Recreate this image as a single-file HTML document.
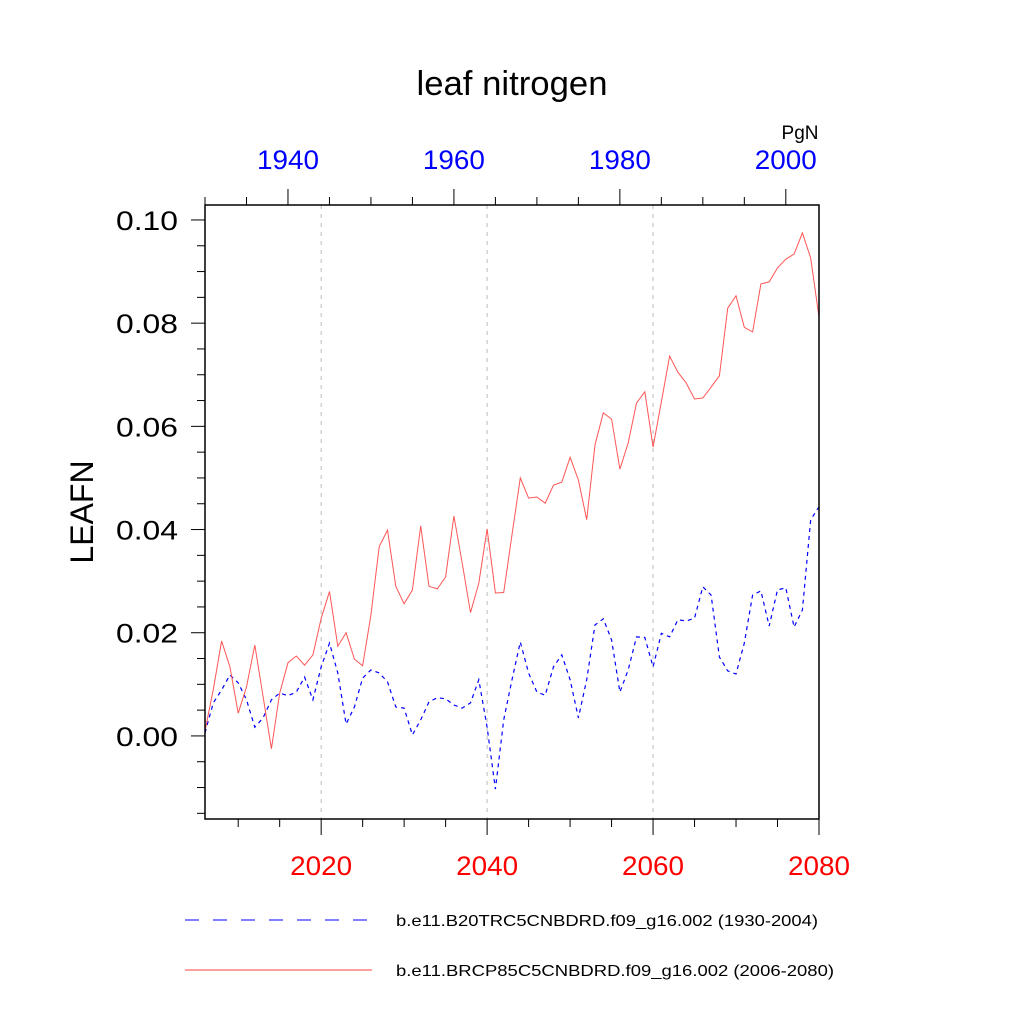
<!DOCTYPE html>
<html><head><meta charset="utf-8"><style>
body{margin:0;background:#fff}
svg{display:block;font-family:"Liberation Sans",sans-serif}
</style></head><body>
<svg id="chart" width="1024" height="1024" viewBox="0 0 1024 1024">
<text x="512" y="95" text-anchor="middle" font-size="34" textLength="191" lengthAdjust="spacingAndGlyphs">leaf nitrogen</text>
<text x="800" y="139" text-anchor="middle" font-size="19">PgN</text>
<text transform="translate(93,512) rotate(-90)" text-anchor="middle" font-size="32">LEAFN</text>
<g id="grid"></g><g id="axes"></g><g id="series"></g>
<rect x="205" y="205" width="614" height="614" fill="none" stroke="#000" stroke-width="1.5"/>
<line x1="185" y1="920" x2="372" y2="920" stroke="#00f" stroke-dasharray="14,14"/>
<text x="396" y="926" font-size="16" textLength="422" lengthAdjust="spacingAndGlyphs">b.e11.B20TRC5CNBDRD.f09_g16.002 (1930-2004)</text>
<line x1="185" y1="970" x2="372" y2="970" stroke="#f00" stroke-width="0.8"/>
<text x="396" y="976" font-size="16" textLength="438" lengthAdjust="spacingAndGlyphs">b.e11.BRCP85C5CNBDRD.f09_g16.002 (2006-2080)</text>
</svg>
<script>
const redYears=[2006,2080];
const blueYears=[1930,2004];
const redValues=[0.001,0.009,0.0184,0.0134,0.0044,0.0095,0.0176,0.0076,-0.0025,0.0083,0.0142,0.0155,0.0137,0.0157,0.0228,0.028,0.0174,0.020,0.0149,0.0136,0.0234,0.0367,0.0399,0.029,0.0256,0.0283,0.0407,0.029,0.0285,0.0308,0.0426,0.0335,0.0239,0.0296,0.0401,0.0277,0.0278,0.039,0.050,0.0461,0.0463,0.0451,0.0486,0.0492,0.054,0.0496,0.0419,0.0564,0.0626,0.0614,0.0517,0.0568,0.0645,0.0667,0.056,0.0648,0.0736,0.0705,0.0684,0.0653,0.0655,0.0676,0.0698,0.0829,0.0853,0.0792,0.0783,0.0876,0.088,0.0907,0.0924,0.0934,0.0975,0.0926,0.0812];
const blueValues=[0.0006,0.0064,0.0089,0.0118,0.0103,0.007,0.0017,0.0035,0.007,0.0083,0.0078,0.0085,0.0114,0.007,0.0134,0.018,0.0122,0.0023,0.0056,0.0112,0.0128,0.0122,0.0105,0.0056,0.0054,0.0002,0.0031,0.0066,0.0074,0.0072,0.006,0.0054,0.0064,0.0109,0.0017,-0.0103,0.0031,0.0109,0.0182,0.0122,0.0085,0.0079,0.0134,0.0157,0.0109,0.0035,0.0109,0.0215,0.0227,0.0186,0.0085,0.0128,0.0192,0.0191,0.0134,0.0199,0.0192,0.0225,0.0223,0.0228,0.0289,0.0273,0.0153,0.0126,0.012,0.018,0.0273,0.0281,0.0213,0.0283,0.0287,0.0211,0.0244,0.0419,0.0444];
const yTicks=[0,0.02,0.04,0.06,0.08,0.10];
const yTickLabels=["0.00","0.02","0.04","0.06","0.08","0.10"];
const bottomTicks=[2020,2040,2060,2080];
const topTicks=[1940,1960,1980,2000];
const X0=205,X1=819,Y0=205,Y1=819;
const yMin=-0.0161,yMax=0.1029;
const y=v=>Y1-(v-yMin)/(yMax-yMin)*(Y1-Y0);
const xb=t=>X0+(t-redYears[0])/(redYears[1]-redYears[0])*(X1-X0);
const xt=t=>X0+(t-blueYears[0])/(blueYears[1]-blueYears[0])*(X1-X0);
const NS="http://www.w3.org/2000/svg";
function mk(tag,attrs,parent,txt){const e=document.createElementNS(NS,tag);for(const k in attrs)e.setAttribute(k,attrs[k]);if(txt!==undefined)e.textContent=txt;document.getElementById(parent).appendChild(e);return e;}
[2020,2040,2060].forEach(t=>{const e=mk('line',{x1:xb(t),x2:xb(t),y1:Y0,y2:Y1,stroke:'#bbb','stroke-dasharray':'4,5','stroke-width':1},'grid');

});
for(let v=-0.015;v<=0.1001;v+=0.005){const major=Math.abs(v/0.02-Math.round(v/0.02))<1e-6;const e=mk('line',{x1:X0-(major?14:8),x2:X0,y1:y(v),y2:y(v),stroke:'#000','stroke-width':1},'axes');

}
yTicks.forEach((v,i)=>{const e=mk('text',{x:X0-27,y:y(v)+10,'text-anchor':'end','font-size':27,textLength:62,lengthAdjust:'spacingAndGlyphs'},'axes',yTickLabels[i]);

});
for(let t=2010;t<=2080;t+=5){const major=t%20===0;const e=mk('line',{x1:xb(t),x2:xb(t),y1:Y1,y2:Y1+(major?16:8),stroke:'#000','stroke-width':1},'axes');

}
bottomTicks.forEach(t=>{const e=mk('text',{x:xb(t),y:875,'text-anchor':'middle','font-size':27,fill:'#f00',textLength:62,lengthAdjust:'spacingAndGlyphs'},'axes',String(t));

});
for(let t=1930;t<=2004;t+=5){const major=t%20===0;const e=mk('line',{x1:xt(t),x2:xt(t),y1:Y0,y2:Y0-(major?16:8),stroke:'#000','stroke-width':1},'axes');

}
topTicks.forEach(t=>{const e=mk('text',{x:xt(t),y:169,'text-anchor':'middle','font-size':27,fill:'#00f',textLength:62,lengthAdjust:'spacingAndGlyphs'},'axes',String(t));

});
const bpts=blueValues.map((v,i)=>xt(blueYears[0]+i).toFixed(1)+','+y(v).toFixed(1)).join(' ');
const b=mk('polyline',{points:bpts,fill:'none',stroke:'#00f','stroke-width':1.2,'stroke-dasharray':'4,4'},'series');


const rpts=redValues.map((v,i)=>xb(redYears[0]+i).toFixed(1)+','+y(v).toFixed(1)).join(' ');
const r=mk('polyline',{points:rpts,fill:'none',stroke:'#f55','stroke-width':1},'series');


</script>
</body></html>
